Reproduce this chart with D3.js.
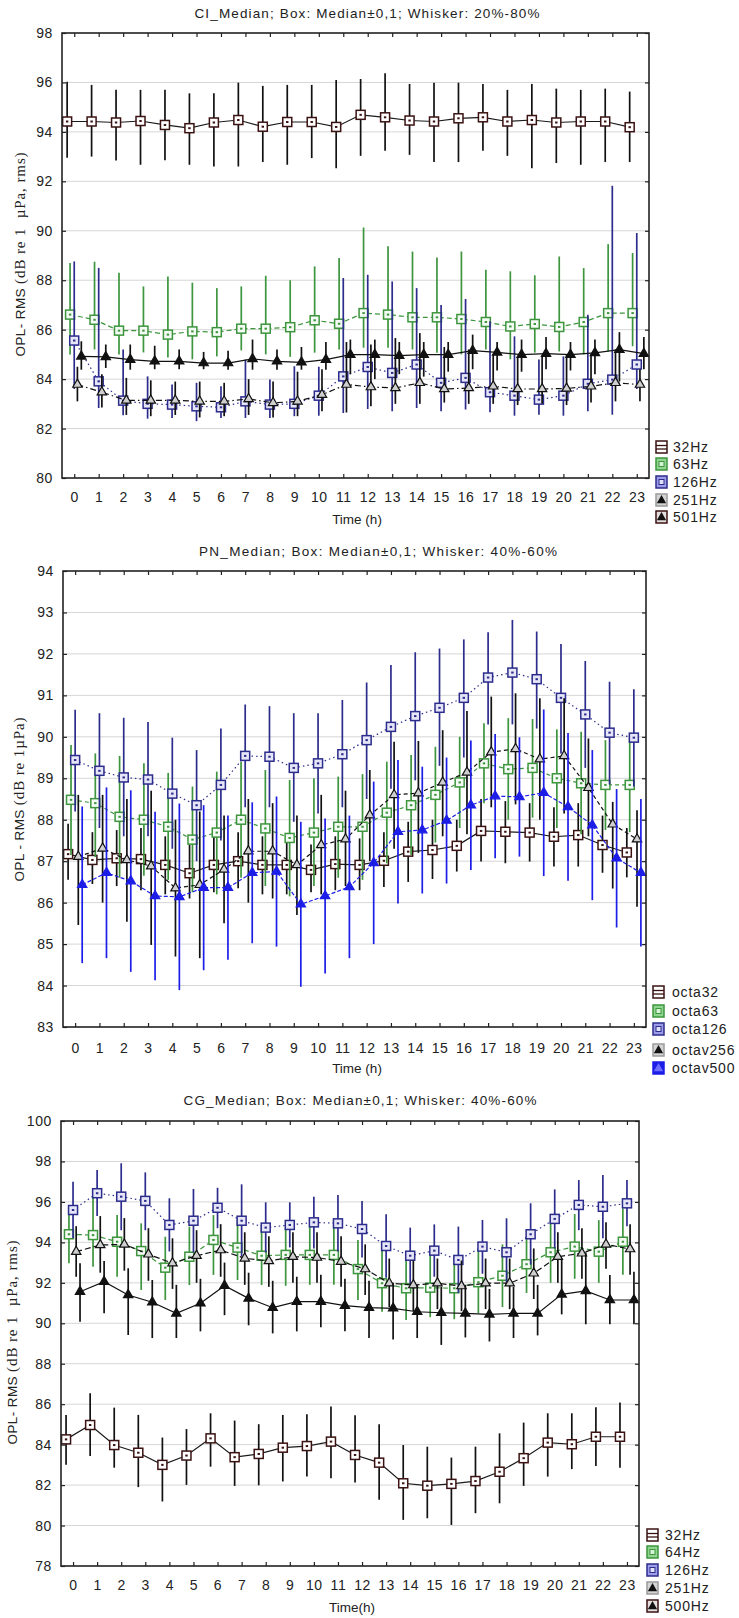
<!DOCTYPE html>
<html><head><meta charset="utf-8">
<script src="https://cdn.jsdelivr.net/npm/d3@7"></script>
<style>body{margin:0;background:#fff}svg{display:block}</style>
</head><body>
<svg id="chart" width="739" height="1618"></svg>
<script>
// Hours of the day on the x axis
const hours = [0,1,2,3,4,5,6,7,8,9,10,11,12,13,14,15,16,17,18,19,20,21,22,23];

// ---- CI panel: medians and 20%-80% whiskers ----
const ciTicks = [80,82,84,86,88,90,92,94,96,98];
const ciLabels = ["32Hz","63Hz","126Hz","251Hz","501Hz"];
const ci32Med = [94.42,94.42,94.38,94.44,94.28,94.15,94.38,94.48,94.21,94.40,94.40,94.20,94.69,94.59,94.46,94.42,94.55,94.59,94.42,94.48,94.38,94.42,94.42,94.19];
const ci32Lo  = [92.95,93.00,92.84,92.67,92.85,92.67,92.60,92.60,92.78,92.67,92.94,92.53,93.03,93.24,93.07,92.78,92.78,93.24,93.03,92.53,92.74,92.67,92.78,92.78];
const ci32Hi  = [96.03,95.90,95.70,95.70,95.70,95.56,95.56,95.99,95.86,95.90,95.90,96.10,96.14,96.37,95.94,95.99,95.99,95.94,95.70,95.94,95.75,95.70,95.75,95.63];
const ci63Med = [86.61,86.40,85.96,85.96,85.80,85.93,85.90,86.04,86.04,86.10,86.38,86.24,86.67,86.61,86.50,86.50,86.43,86.31,86.13,86.23,86.11,86.31,86.67,86.67];
const ci63Lo  = [85.00,85.20,85.00,85.08,84.87,84.80,84.92,85.16,85.00,84.90,85.07,85.20,85.27,85.27,85.20,85.07,85.00,85.20,84.80,85.07,85.12,85.00,85.12,85.33];
const ci63Hi  = [88.70,88.75,88.30,87.75,88.15,87.90,87.68,87.75,88.18,88.00,88.56,88.90,90.13,89.37,89.16,88.92,89.16,88.42,88.36,88.20,88.96,88.49,89.46,89.10];
const ci126Med = [85.56,83.91,83.13,83.00,82.97,82.90,82.86,83.10,82.97,83.00,83.33,84.11,84.49,84.25,84.59,83.85,84.05,83.47,83.33,83.17,83.33,83.81,83.98,84.59];
const ci126Lo  = [83.60,82.83,82.54,82.40,82.43,82.30,82.43,82.43,82.43,82.50,82.52,82.63,82.79,82.70,82.83,82.70,82.77,82.66,82.52,82.56,82.52,82.70,82.56,83.60];
const ci126Hi  = [88.76,88.50,85.20,84.11,83.78,83.85,83.71,84.79,83.98,84.52,84.50,88.09,88.22,87.95,87.68,87.00,87.24,86.34,85.73,84.79,84.92,86.60,91.82,89.91];
const ci251Med = [83.78,83.47,83.14,83.14,83.14,83.10,83.10,83.20,83.04,83.10,83.37,83.78,83.68,83.64,83.85,83.60,83.64,83.71,83.60,83.60,83.62,83.71,83.85,83.78];
const ci251Lo  = [83.10,82.85,82.55,82.50,82.55,82.45,82.50,82.55,82.45,82.50,82.70,82.65,82.90,83.00,83.00,83.05,83.00,83.00,82.95,83.00,82.95,83.05,83.10,83.10];
const ci251Hi  = [84.50,84.20,84.05,83.95,83.90,83.90,83.85,84.00,83.90,84.30,84.40,85.50,85.40,85.66,85.86,85.30,85.20,85.00,84.90,84.90,85.00,85.00,85.20,84.40];
const ci501Med = [84.92,84.90,84.79,84.72,84.72,84.65,84.65,84.82,84.72,84.68,84.79,84.99,84.99,84.95,84.99,84.99,85.15,85.08,84.99,85.03,84.99,85.06,85.19,85.03];
const ci501Lo  = [84.38,84.45,84.38,84.40,84.40,84.40,84.38,84.38,84.38,84.38,84.38,84.20,84.00,84.20,84.10,84.30,84.40,84.35,84.30,84.40,84.35,84.20,83.90,84.40];
const ci501Hi  = [85.53,85.40,85.40,85.35,85.20,85.10,85.15,85.60,85.20,85.30,85.50,85.60,85.60,85.50,85.50,85.50,85.80,85.50,85.60,85.70,85.50,85.60,85.90,85.70];

// ---- PN panel: medians and 40%-60% whiskers ----
const pnTicks = [83,84,85,86,87,88,89,90,91,92,93,94];
const pnLabels = ["octa32","octa63","octa126","octav256","octav500"];
const pn32Med = [87.17,87.03,87.07,87.05,86.91,86.71,86.91,87.00,86.91,86.91,86.79,86.93,86.91,87.01,87.23,87.27,87.37,87.73,87.71,87.69,87.59,87.63,87.39,87.21];
const pn32Lo  = [86.55,86.45,86.40,86.30,86.20,86.10,86.25,86.35,86.20,86.20,86.25,86.30,86.30,86.38,86.50,86.57,86.75,86.99,86.95,86.99,86.87,86.87,86.72,86.61];
const pn32Hi  = [87.90,87.70,87.75,87.80,87.60,87.40,87.60,87.70,87.60,87.65,87.40,87.60,87.55,87.70,87.95,88.00,88.00,88.50,88.45,88.40,88.30,88.40,88.10,87.80];
const pn63Med = [88.48,88.40,88.07,88.00,87.83,87.52,87.69,88.00,87.79,87.56,87.69,87.83,87.83,88.17,88.35,88.60,88.90,89.36,89.22,89.25,89.00,88.88,88.84,88.84];
const pn63Lo  = [87.15,87.10,86.60,86.65,86.55,86.25,86.20,86.60,86.40,86.15,86.40,86.60,86.55,86.95,87.15,87.45,87.80,88.40,88.00,88.05,87.80,87.65,87.75,87.70];
const pn63Hi  = [89.80,89.60,89.54,89.36,89.13,88.80,89.16,89.40,89.20,88.96,89.00,89.04,89.10,89.40,89.56,89.76,90.00,90.33,90.45,90.43,90.18,90.12,89.92,89.96];
const pn126Med = [89.44,89.18,89.02,88.97,88.63,88.35,88.84,89.54,89.52,89.25,89.36,89.58,89.92,90.24,90.50,90.70,90.94,91.43,91.55,91.39,90.94,90.54,90.10,89.98];
const pn126Lo  = [88.20,87.80,87.60,87.60,87.30,87.00,87.50,88.30,88.30,87.95,88.15,88.30,88.50,88.75,88.95,89.30,89.50,90.30,90.30,90.20,89.60,89.25,88.85,88.80];
const pn126Hi  = [90.65,90.57,90.46,90.36,89.98,89.68,90.20,90.78,90.74,90.57,90.57,90.89,91.31,91.73,92.04,92.13,92.35,92.52,92.82,92.54,92.24,91.83,91.33,91.15];
const pn256Med = [87.11,87.31,87.03,86.88,86.35,86.43,86.80,87.24,87.24,86.91,87.39,87.53,88.11,88.60,88.64,88.90,89.14,89.63,89.71,89.46,89.54,88.77,87.89,87.53];
const pn256Lo  = [85.46,86.00,85.54,84.98,84.70,84.66,85.50,86.00,86.10,85.70,86.20,86.40,87.00,87.30,87.20,87.60,87.65,88.30,88.37,88.00,88.15,87.60,86.34,85.90];
const pn256Hi  = [88.60,88.60,88.50,88.70,88.00,88.20,88.10,88.50,88.40,88.10,88.60,88.70,89.20,89.88,89.90,90.16,90.62,90.97,91.05,90.93,90.93,89.96,88.43,88.23];
const pn500Med = [86.43,86.72,86.52,86.16,86.14,86.36,86.36,86.72,86.75,85.96,86.16,86.38,86.96,87.71,87.75,87.98,88.35,88.57,88.55,88.65,88.31,87.87,87.07,86.72];
const pn500Lo  = [84.54,84.66,84.33,84.13,83.89,84.37,84.62,85.02,84.94,83.97,84.29,84.66,85.00,85.98,86.22,86.46,86.79,87.07,87.11,86.64,86.53,86.06,85.40,84.94];
const pn500Hi  = [88.32,88.78,88.71,88.19,88.39,88.35,88.10,88.42,88.56,87.95,88.03,88.10,88.92,89.44,89.28,89.50,89.91,90.07,89.99,90.66,90.09,89.68,88.74,88.50];

// ---- CG panel: medians and 40%-60% whiskers ----
const cgTicks = [78,80,82,84,86,88,90,92,94,96,98,100];
const cgLabels = ["32Hz","64Hz","126Hz","251Hz","500Hz"];
const cg32Med = [84.26,84.97,83.98,83.60,83.00,83.46,84.31,83.38,83.54,83.85,83.93,84.15,83.49,83.11,82.09,81.97,82.06,82.20,82.66,83.33,84.10,84.02,84.39,84.39];
const cg32Lo  = [83.00,83.44,82.86,81.90,81.19,82.01,82.91,81.96,81.99,82.18,82.42,82.34,82.13,81.27,80.28,80.36,80.03,80.61,81.10,81.96,82.42,82.79,82.95,82.86];
const cg32Hi  = [85.47,86.54,85.83,85.47,84.35,84.77,85.55,85.19,85.01,85.47,85.50,85.88,85.45,85.01,83.98,83.90,83.36,83.90,84.56,85.09,85.55,85.55,85.85,86.08];
const cg64Med = [94.40,94.36,94.03,93.57,92.75,93.29,94.12,93.74,93.34,93.38,93.38,93.38,92.68,91.98,91.73,91.76,91.73,92.03,92.35,92.92,93.51,93.79,93.54,94.03];
const cg64Lo  = [92.97,92.80,92.30,91.65,91.15,91.89,92.39,92.14,91.89,91.85,91.90,91.90,91.15,90.57,90.16,90.30,90.20,90.50,90.80,91.50,92.00,92.20,92.00,92.40];
const cg64Hi  = [95.80,96.21,95.35,94.94,94.28,94.78,95.35,95.10,94.85,94.80,94.80,94.80,94.12,93.62,93.21,93.40,93.30,93.60,93.90,94.28,95.11,95.40,95.10,95.68];
const cg126Med = [95.60,96.43,96.26,96.05,94.86,95.07,95.71,95.07,94.73,94.86,94.99,94.94,94.66,93.82,93.34,93.59,93.13,93.79,93.51,94.40,95.16,95.85,95.76,95.93];
const cg126Lo  = [94.20,95.30,94.60,94.60,93.55,93.50,94.70,93.30,93.50,93.75,93.70,93.55,93.25,92.25,91.95,92.30,91.50,92.45,91.85,92.90,93.70,94.60,94.20,94.80];
const cg126Hi  = [97.00,97.58,97.91,97.46,96.18,96.64,96.70,96.87,95.98,95.98,96.26,96.34,96.05,95.39,94.73,94.89,94.78,95.11,95.19,95.93,96.62,97.08,97.33,97.08];
const cg251Med = [93.54,93.87,93.90,93.41,92.97,93.34,93.62,93.21,93.08,93.29,93.25,93.05,92.68,91.98,91.89,91.98,91.84,91.98,91.98,92.47,93.29,93.46,93.90,93.67];
const cg251Lo  = [92.30,92.50,92.60,92.10,91.70,92.00,92.30,91.90,91.80,92.00,92.00,91.80,91.40,90.80,90.60,90.70,90.60,90.70,90.70,91.20,92.00,92.20,92.70,92.40];
const cg251Hi  = [94.80,95.30,95.20,94.70,94.20,94.60,94.90,94.50,94.30,94.50,94.50,94.30,93.90,93.20,93.10,93.20,93.10,93.20,93.20,93.70,94.50,94.70,95.00,94.90];
const cg500Med = [91.56,92.06,91.40,91.04,90.49,90.99,91.86,91.23,90.77,91.07,91.07,90.87,90.77,90.74,90.57,90.52,90.49,90.44,90.49,90.49,91.43,91.60,91.15,91.15];
const cg500Lo  = [90.08,90.49,89.42,89.27,89.27,89.60,90.40,89.90,89.50,89.60,89.80,89.60,89.27,89.20,89.27,88.93,89.30,89.10,89.27,89.40,90.44,89.95,89.95,89.95];
const cg500Hi  = [92.97,93.08,92.72,92.14,91.90,92.20,93.00,92.50,92.10,92.30,92.40,92.20,92.10,92.00,91.90,91.80,91.90,91.70,91.80,91.90,93.20,93.50,92.39,92.55];

// ---- styling ----
const SANS = "'Liberation Sans', Arial, sans-serif";
const SERIF = "'Liberation Serif', 'Times New Roman', serif";
const C_DARK = "#3b1212", C_GREEN = "#3d953d", C_NAVY = "#2c2c8c", C_BLACK = "#111", C_BLUE = "#1d1de8";
// horizontal shift of each variable inside an hour slot
const shifts = [-0.29, -0.17, 0, 0.13, 0.29];

function series(label, med, lo, hi, kind, dash) {
  return {label, med, lo, hi, kind, dash};
}

const panels = [
  {
    title: "CI_Median; Box: Median\u00b10,1; Whisker: 20%-80%", titleX: 367, titleY: 13, titleLen: 345,
    left: 62, right: 649, top: 33, bottom: 478, ticks: ciTicks,
    tickLabelGap: 14, xTitle: "Time (h)", xTitleX: 357, xTitleY: 519,
    yLab: {x: 20, cy: 254, sans: "OPL- RMS ", serif: "(dB re 1  \u00b5Pa, rms)"},
    legend: {x: 656, tx: 673, rows: [447, 464, 482, 500, 517]},
    series: [
      series(ciLabels[0], ci32Med, ci32Lo, ci32Hi, "sqDark", null),
      series(ciLabels[1], ci63Med, ci63Lo, ci63Hi, "sqGreen", "5,3"),
      series(ciLabels[2], ci126Med, ci126Lo, ci126Hi, "sqNavy", "1.5,3"),
      series(ciLabels[3], ci251Med, ci251Lo, ci251Hi, "triOpen", "6,3,1.5,3"),
      series(ciLabels[4], ci501Med, ci501Lo, ci501Hi, "triDark", null)
    ]
  },
  {
    title: "PN_Median; Box: Median\u00b10,1; Whisker: 40%-60%", titleX: 378, titleY: 551, titleLen: 358,
    left: 63, right: 646, top: 571, bottom: 1027, ticks: pnTicks,
    tickLabelGap: 16, xTitle: "Time (h)", xTitleX: 357, xTitleY: 1068,
    yLab: {x: 19, cy: 799, sans: "OPL - RMS ", serif: "(dB re 1\u00b5Pa)"},
    legend: {x: 653, tx: 672, rows: [992, 1011, 1029, 1050, 1068]},
    series: [
      series(pnLabels[0], pn32Med, pn32Lo, pn32Hi, "sqDark", null),
      series(pnLabels[1], pn63Med, pn63Lo, pn63Hi, "sqGreen", "4,3"),
      series(pnLabels[2], pn126Med, pn126Lo, pn126Hi, "sqNavy", "1.5,3"),
      series(pnLabels[3], pn256Med, pn256Lo, pn256Hi, "triOpen", "4,3"),
      series(pnLabels[4], pn500Med, pn500Lo, pn500Hi, "triBlue", "4,2")
    ]
  },
  {
    title: "CG_Median; Box: Median\u00b10,1; Whisker: 40%-60%", titleX: 360, titleY: 1100, titleLen: 353,
    left: 61, right: 639, top: 1121, bottom: 1566, ticks: cgTicks,
    tickLabelGap: 14, xTitle: "Time(h)", xTitleX: 352, xTitleY: 1607,
    yLab: {x: 12, cy: 1342, sans: "OPL- RMS ", serif: "(dB re 1  \u00b5Pa, rms)"},
    legend: {x: 647, tx: 665, rows: [1535, 1552, 1570, 1588, 1606]},
    series: [
      series(cgLabels[0], cg32Med, cg32Lo, cg32Hi, "sqDark", null),
      series(cgLabels[1], cg64Med, cg64Lo, cg64Hi, "sqGreen", "5,3"),
      series(cgLabels[2], cg126Med, cg126Lo, cg126Hi, "sqNavy", "1.5,3"),
      series(cgLabels[3], cg251Med, cg251Lo, cg251Hi, "triOpen", "6,3"),
      series(cgLabels[4], cg500Med, cg500Lo, cg500Hi, "triDark", null)
    ]
  }
];

// colours for each marker kind
const kindStyle = {
  sqDark:  {color: C_BLACK, stroke: C_DARK,  fill: "#fff",    line: "#1a1a1a"},
  sqGreen: {color: C_GREEN, stroke: C_GREEN, fill: "#f4fbf4", line: C_GREEN},
  sqNavy:  {color: C_NAVY,  stroke: C_NAVY,  fill: "#e6e6f8", line: C_NAVY},
  triOpen: {color: C_BLACK, stroke: C_BLACK, fill: "#cfcfcf", line: C_BLACK},
  triDark: {color: C_BLACK, stroke: C_BLACK, fill: C_BLACK,   line: C_BLACK},
  triBlue: {color: C_BLUE,  stroke: C_BLUE,  fill: C_BLUE,    line: C_BLUE}
};

const svg = d3.select("#chart");
const tri = d3.symbol().type(d3.symbolTriangle).size(38);

function drawPanel(p) {
  const g = svg.append("g");
  const x = d3.scaleLinear().domain([-0.5, 23.5]).range([p.left, p.right]);
  const y = d3.scaleLinear().domain([p.ticks[0], p.ticks[p.ticks.length - 1]]).range([p.bottom, p.top]);

  // title
  g.append("text").attr("x", p.titleX).attr("y", p.titleY).attr("text-anchor", "middle")
    .attr("dominant-baseline", "central").attr("font-family", SANS).attr("font-size", 13.5)
    .attr("fill", "#222").attr("textLength", p.titleLen).attr("lengthAdjust", "spacing").text(p.title);

  // horizontal grid
  g.append("g").selectAll("line").data(p.ticks.slice(1, -1)).join("line")
    .attr("x1", p.left).attr("x2", p.right).attr("y1", d => y(d)).attr("y2", d => y(d))
    .attr("stroke", "#d6d6d6").attr("stroke-width", 1);

  const styleAxis = sel => {
    sel.select(".domain").remove();
    sel.selectAll(".tick line").attr("stroke", "#222").attr("stroke-width", 1.2);
    sel.selectAll(".tick text").attr("font-family", SANS).attr("font-size", 14)
      .attr("fill", "#222").attr("letter-spacing", "0.6px");
  };

  g.append("g").attr("transform", `translate(0,${p.bottom})`)
    .call(d3.axisBottom(x).tickValues(hours).tickFormat(d3.format("d")).tickSize(-4).tickPadding(p.tickLabelGap))
    .call(styleAxis);
  g.append("g").attr("transform", `translate(0,${p.top})`)
    .call(d3.axisTop(x).tickValues(hours).tickFormat("").tickSize(-4)).call(styleAxis);
  g.append("g").attr("transform", `translate(${p.left},0)`)
    .call(d3.axisLeft(y).tickValues(p.ticks).tickFormat(d3.format("d")).tickSize(-4).tickPadding(9))
    .call(styleAxis);
  g.append("g").attr("transform", `translate(${p.right},0)`)
    .call(d3.axisRight(y).tickValues(p.ticks).tickFormat("").tickSize(-4)).call(styleAxis);

  // data
  p.series.forEach((s, i) => {
    const st = kindStyle[s.kind];
    const sg = g.append("g");
    const px = h => x(h + shifts[i]);
    // whiskers
    sg.append("g").selectAll("line").data(hours).join("line")
      .attr("x1", px).attr("x2", px)
      .attr("y1", h => y(s.lo[h])).attr("y2", h => y(s.hi[h]))
      .attr("stroke", st.color).attr("stroke-width", 1.7);
    // median line
    sg.append("path").datum(hours)
      .attr("d", d3.line().x(px).y(h => y(s.med[h])))
      .attr("fill", "none").attr("stroke", st.line).attr("stroke-width", 1.2)
      .attr("stroke-dasharray", s.dash);
    // median markers
    if (s.kind.startsWith("sq")) {
      const m = sg.append("g").selectAll("g").data(hours).join("g")
        .attr("transform", h => `translate(${px(h)},${y(s.med[h])})`);
      m.append("rect").attr("x", -4.5).attr("y", -4.5).attr("width", 9).attr("height", 9)
        .attr("fill", st.fill).attr("stroke", st.stroke).attr("stroke-width", 1.5);
      m.append("rect").attr("x", -1.2).attr("y", -1).attr("width", 2.4).attr("height", 2)
        .attr("fill", st.stroke);
    } else {
      sg.append("g").selectAll("path").data(hours).join("path")
        .attr("transform", h => `translate(${px(h)},${y(s.med[h])})`)
        .attr("d", tri).attr("fill", st.fill).attr("stroke", st.stroke).attr("stroke-width", 1.2);
    }
  });

  // frame
  g.append("rect").attr("x", p.left).attr("y", p.top)
    .attr("width", p.right - p.left).attr("height", p.bottom - p.top)
    .attr("fill", "none").attr("stroke", "#222").attr("stroke-width", 1.6);

  // axis titles
  g.append("text").attr("x", p.xTitleX).attr("y", p.xTitleY).attr("text-anchor", "middle")
    .attr("dominant-baseline", "central").attr("font-family", SANS).attr("font-size", 13.5)
    .attr("fill", "#222").text(p.xTitle);
  const yl = p.yLab;
  const yt = g.append("text").attr("transform", `translate(${yl.x},${yl.cy}) rotate(-90)`)
    .attr("text-anchor", "middle").attr("dominant-baseline", "central")
    .attr("fill", "#222").attr("xml:space", "preserve").style("white-space", "pre");
  yt.append("tspan").attr("font-family", SANS).attr("font-size", 13.5).attr("letter-spacing", "0.4px").text(yl.sans);
  yt.append("tspan").attr("font-family", SERIF).attr("font-size", 15).attr("letter-spacing", "0.9px").text(yl.serif);

  // legend
  const lg = g.append("g");
  p.series.forEach((s, i) => {
    const cy = p.legend.rows[i];
    const e = lg.append("g").attr("transform", `translate(${p.legend.x},${cy})`);
    drawLegendIcon(e, s.kind);
    lg.append("text").attr("x", p.legend.tx).attr("y", cy).attr("dominant-baseline", "central")
      .attr("font-family", SANS).attr("font-size", 14).attr("letter-spacing", "0.8px")
      .attr("fill", "#222").text(s.label);
  });
}

function drawLegendIcon(e, kind) {
  const box = (fill, stroke) => e.append("rect").attr("x", 0).attr("y", -6).attr("width", 11).attr("height", 12)
    .attr("fill", fill).attr("stroke", stroke).attr("stroke-width", 1.5);
  if (kind === "sqDark") {
    box("#fff", C_DARK);
    e.append("line").attr("x1", 0).attr("x2", 11).attr("y1", -1.5).attr("y2", -1.5).attr("stroke", C_DARK).attr("stroke-width", 1.3);
    e.append("line").attr("x1", 0).attr("x2", 11).attr("y1", 2).attr("y2", 2).attr("stroke", C_DARK).attr("stroke-width", 1.3);
  } else if (kind === "sqGreen") {
    box("#8fd48f", C_GREEN);
    e.append("rect").attr("x", 3).attr("y", -2.5).attr("width", 5).attr("height", 5).attr("fill", "#d8f2d8").attr("stroke", C_GREEN);
  } else if (kind === "sqNavy") {
    box("#9c9ce8", C_NAVY);
    e.append("rect").attr("x", 3).attr("y", -2.5).attr("width", 5).attr("height", 5).attr("fill", "#e0e0fa").attr("stroke", C_NAVY);
  } else if (kind === "triOpen") {
    box("#d4d4d4", "#9a9a9a");
    e.append("path").attr("transform", "translate(5.5,0.5)").attr("d", tri).attr("fill", C_BLACK);
  } else if (kind === "triDark") {
    box("#e6dede", C_DARK);
    e.append("path").attr("transform", "translate(5.5,0.5)").attr("d", tri).attr("fill", C_BLACK);
  } else if (kind === "triBlue") {
    box(C_BLUE, C_BLUE);
    e.append("path").attr("transform", "translate(5.5,0.5)").attr("d", tri).attr("fill", "#6f6fff");
  }
}

panels.forEach(drawPanel);
</script>
</body></html>
